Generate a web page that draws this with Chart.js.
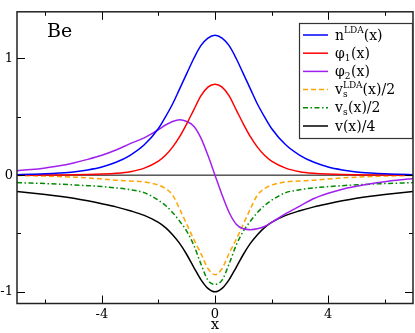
<!DOCTYPE html>
<html>
<head>
<meta charset="utf-8">
<script src="https://cdn.jsdelivr.net/npm/chart.js@4.4.0/dist/chart.umd.min.js"></script>
<style>
  html, body { margin: 0; padding: 0; background: #fff; }
</style>
</head>
<body>
<canvas id="chart" width="415" height="333"></canvas>
<script>
// x grid of the curves
const xs = [-7, -6.5, -6, -5.5, -5, -4.5, -4, -3.5, -3, -2.5, -2, -1.75, -1.5, -1.25, -1, -0.75, -0.5, -0.25,
  0, 0.25, 0.5, 0.75, 1, 1.25, 1.5, 1.75, 2, 2.5, 3, 3.5, 4, 4.5, 5, 5.5, 6, 6.5, 7];

const nLDA = [0.004, 0.007, 0.011, 0.018, 0.028, 0.045, 0.07, 0.11, 0.17, 0.26, 0.4, 0.5, 0.61, 0.74, 0.87, 1.0, 1.11, 1.175,
  1.2, 1.175, 1.11, 1.0, 0.87, 0.74, 0.61, 0.5, 0.4, 0.26, 0.17, 0.11, 0.07, 0.045, 0.028, 0.018, 0.011, 0.007, 0.004];

const phi1 = [0, 0.0005, 0.001, 0.002, 0.003, 0.005, 0.009, 0.016, 0.03, 0.06, 0.12, 0.17, 0.24, 0.33, 0.44, 0.56, 0.68, 0.755,
  0.78, 0.755, 0.68, 0.56, 0.44, 0.33, 0.24, 0.17, 0.12, 0.06, 0.03, 0.016, 0.009, 0.005, 0.003, 0.002, 0.001, 0.0005, 0];

const phi2 = [0.038, 0.048, 0.062, 0.08, 0.105, 0.135, 0.17, 0.215, 0.27, 0.32, 0.39, 0.43, 0.46, 0.475, 0.46, 0.42, 0.32, 0.17,
  0, -0.17, -0.32, -0.42, -0.46, -0.467, -0.46, -0.44, -0.405, -0.33, -0.265, -0.2, -0.155, -0.12, -0.095, -0.073, -0.056, -0.042, -0.03];

const vsLDA = [-0.003, -0.005, -0.008, -0.012, -0.017, -0.024, -0.033, -0.043, -0.05, -0.058, -0.085, -0.115, -0.17, -0.29, -0.42, -0.55, -0.67, -0.8,
  -0.853, -0.8, -0.67, -0.55, -0.42, -0.29, -0.17, -0.115, -0.085, -0.058, -0.05, -0.043, -0.033, -0.024, -0.017, -0.012, -0.008, -0.005, -0.003];

const vs = [-0.064, -0.068, -0.072, -0.077, -0.083, -0.09, -0.098, -0.109, -0.125, -0.15, -0.215, -0.26, -0.32, -0.395, -0.48, -0.6, -0.76, -0.9,
  -0.936, -0.9, -0.76, -0.6, -0.48, -0.395, -0.32, -0.26, -0.215, -0.15, -0.125, -0.109, -0.098, -0.09, -0.083, -0.077, -0.072, -0.068, -0.064];

const v4 = [-0.141, -0.152, -0.165, -0.18, -0.198, -0.22, -0.245, -0.272, -0.305, -0.345, -0.405, -0.45, -0.51, -0.585, -0.68, -0.79, -0.895, -0.97,
  -1.0, -0.97, -0.895, -0.79, -0.68, -0.585, -0.51, -0.45, -0.405, -0.345, -0.305, -0.272, -0.245, -0.22, -0.198, -0.18, -0.165, -0.152, -0.141];

const xMajor = [-4, 0, 4];
const xMinor = [-6, -2, 2, 6];
const yMajor = [-1, 0, 1];
const yMinor = [-0.5, 0.5];

// legend text, split into plain / sub / sup pieces
const legendLabels = [
  [['n'], ['LDA', 'sup'], ['(x)']],
  [['φ'], ['1', 'sub'], ['(x)']],
  [['φ'], ['2', 'sub'], ['(x)']],
  [['v'], ['s', 'subStack'], ['LDA', 'sup'], ['(x)/2']],
  [['v'], ['s', 'sub'], ['(x)/2']],
  [['v(x)/4']]
];

// only DejaVu Serif actually resolves to a serif face here
const serif = '"DejaVu Serif", serif';

const series = [
  { data: nLDA, color: '#0000ff', dash: [] },
  { data: phi1, color: '#ff0000', dash: [] },
  { data: phi2, color: '#a020f0', dash: [] },
  { data: vsLDA, color: '#ffa500', dash: [5, 3] },
  { data: vs, color: '#008b00', dash: [5, 2.5, 1.5, 2.5] },
  { data: v4, color: '#000000', dash: [] }
];

const toPoints = (ys) => xs.map((x, i) => ({ x: x, y: ys[i] }));

let datasets = series.map(s => ({
  data: toPoints(s.data),
  borderColor: s.color,
  borderDash: s.dash,
  borderWidth: 1.5,
  cubicInterpolationMode: 'monotone',
  pointRadius: 0,
  fill: false
}));
// zero line
datasets.push({
  data: [{ x: -7, y: 0 }, { x: 7, y: 0 }],
  borderColor: '#000',
  borderWidth: 1,
  pointRadius: 0,
  fill: false
});

const decor = {
  id: 'decor',
  afterDraw(chart) {
    const ctx = chart.ctx;
    const a = chart.chartArea;
    const sx = chart.scales.x, sy = chart.scales.y;
    ctx.save();
    ctx.strokeStyle = '#000';
    ctx.lineWidth = 1;
    ctx.setLineDash([]);

    // inward ticks on all four sides
    const xTick = (v, len) => {
      const p = Math.round(sx.getPixelForValue(v)) + 0.5;
      ctx.beginPath();
      ctx.moveTo(p, a.bottom); ctx.lineTo(p, a.bottom - len);
      ctx.moveTo(p, a.top); ctx.lineTo(p, a.top + len);
      ctx.stroke();
    };
    const yTick = (v, len) => {
      const p = Math.round(sy.getPixelForValue(v)) + 0.5;
      ctx.beginPath();
      ctx.moveTo(a.left, p); ctx.lineTo(a.left + len, p);
      ctx.moveTo(a.right, p); ctx.lineTo(a.right - len, p);
      ctx.stroke();
    };
    xMajor.forEach(v => xTick(v, 8));
    xMinor.forEach(v => xTick(v, 4));
    yMajor.forEach(v => yTick(v, 8));
    yMinor.forEach(v => yTick(v, 4));

    // frame
    ctx.lineWidth = 1.5;
    ctx.strokeStyle = '#222';
    ctx.strokeRect(a.left, a.top, a.right - a.left, a.bottom - a.top);

    ctx.fillStyle = '#000';
    ctx.font = '19px ' + serif;
    ctx.textAlign = 'left';
    ctx.textBaseline = 'alphabetic';
    ctx.fillText('Be', 47, 37);

    // x axis title
    ctx.font = '15px ' + serif;
    ctx.textAlign = 'center';
    ctx.textBaseline = 'middle';
    ctx.fillText('x', sx.getPixelForValue(0), 325);

    // legend box
    const bx = 299, by = 23, bw = 113, bh = 115;
    ctx.fillStyle = '#fff';
    ctx.fillRect(bx, by, bw, bh);
    ctx.lineWidth = 1.2;
    ctx.strokeStyle = '#333';
    ctx.strokeRect(bx + 0.5, by + 0.5, bw, bh);

    ctx.textAlign = 'left';
    ctx.textBaseline = 'alphabetic';
    series.forEach((s, i) => {
      const ly = 35 + i * 18.2;
      ctx.strokeStyle = s.color;
      ctx.lineWidth = 1.5;
      ctx.setLineDash(s.dash);
      ctx.beginPath();
      ctx.moveTo(303, ly); ctx.lineTo(328, ly);
      ctx.stroke();
      ctx.setLineDash([]);

      ctx.fillStyle = '#000';
      let tx = 335;
      const base = ly + 4.5;
      legendLabels[i].forEach(part => {
        const t = part[0], kind = part[1];
        if (kind === 'sup') {
          ctx.font = '9px ' + serif;
          ctx.fillText(t, tx, base - 6.5);
          tx += ctx.measureText(t).width;
        } else if (kind === 'sub' || kind === 'subStack') {
          ctx.font = '9px ' + serif;
          ctx.fillText(t, tx, base + 3);
          if (kind === 'sub') tx += ctx.measureText(t).width + 0.5;
        } else {
          ctx.font = '14px ' + serif;
          ctx.fillText(t, tx, base);
          tx += ctx.measureText(t).width;
        }
      });
    });
    ctx.restore();
  }
};

new Chart(document.getElementById('chart'), {
  type: 'line',
  data: { datasets: datasets },
  options: {
    responsive: false,
    animation: false,
    layout: { padding: { top: 2, right: 2, left: 0, bottom: 0 } },
    plugins: { legend: { display: false }, tooltip: { enabled: false } },
    scales: {
      x: {
        type: 'linear', min: -7, max: 7,
        grid: { display: false, drawTicks: false },
        border: { display: false },
        afterBuildTicks: s => { s.ticks = xMajor.map(v => ({ value: v })); },
        afterFit: s => { s.height = 29.5; },
        ticks: { padding: 3, color: '#000', font: { family: serif, size: 13 }, maxRotation: 0, autoSkip: false,
          callback: v => String(v) }
      },
      y: {
        type: 'linear', min: -1.1, max: 1.4,
        grid: { display: false, drawTicks: false },
        border: { display: false },
        afterBuildTicks: s => { s.ticks = yMajor.map(v => ({ value: v })); },
        afterFit: s => { s.width = 17; },
        ticks: { padding: 4, color: '#000', font: { family: serif, size: 13 }, autoSkip: false,
          callback: v => String(v) }
      }
    }
  },
  plugins: [decor]
});
</script>
</body>
</html>
